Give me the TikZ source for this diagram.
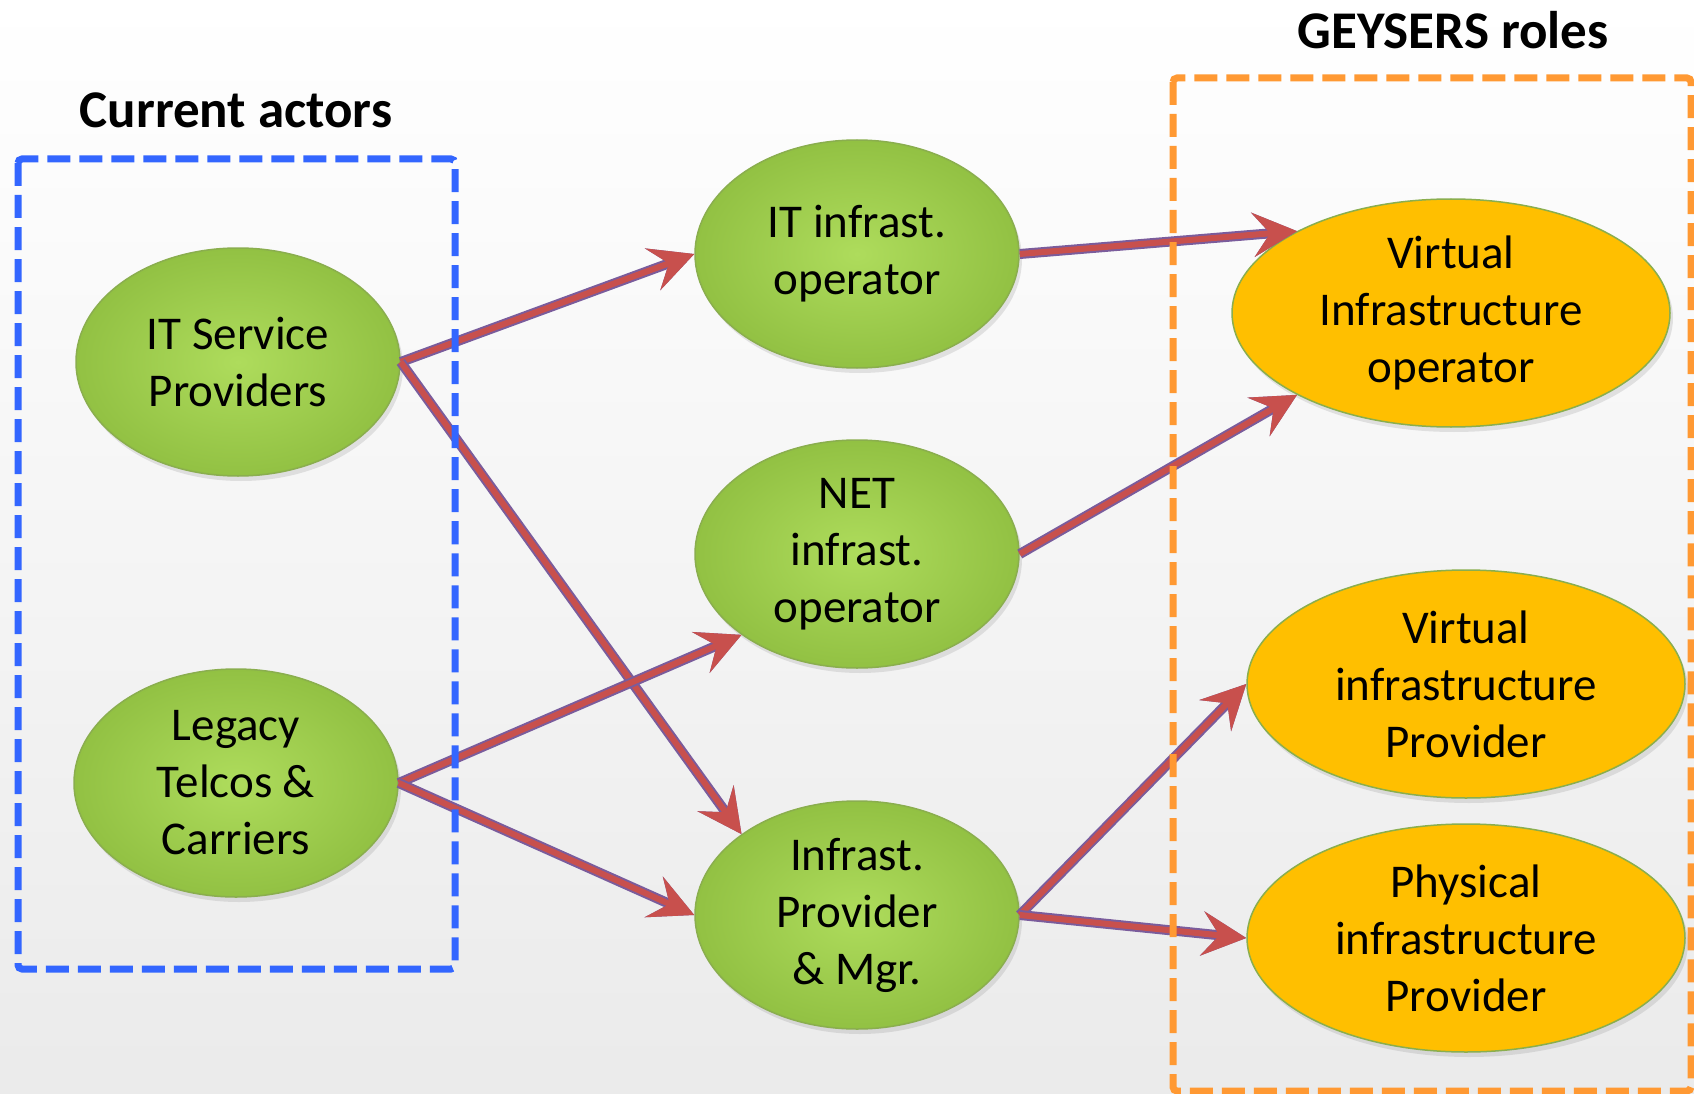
\documentclass[tikz,border=0pt]{standalone}
\usepackage{fontspec}
\setmainfont{Carlito}
\usetikzlibrary{arrows.meta,shapes.geometric,shadows}
\definecolor{actorgreen}{HTML}{92C143}
\definecolor{actorlight}{HTML}{AEDC5C}
\definecolor{roleorange}{HTML}{FFBF00}
\definecolor{nodeedge}{HTML}{8AAE4E}
\definecolor{flowred}{HTML}{C8504D}
\definecolor{flowedge}{HTML}{7A5C9C}
\definecolor{actorblue}{HTML}{3366FF}
\definecolor{roleframe}{HTML}{FF9933}
\tikzset{
  actor/.style={ellipse, minimum width=324pt, minimum height=228pt, inner sep=0pt,
    align=center, draw=nodeedge, line width=1.5pt, inner color=actorlight, outer color=actorgreen,
    drop shadow={opacity=0.2, shadow xshift=3pt, shadow yshift=-5pt},
    font=\fontsize{47}{57}\selectfont},
  role/.style={actor, minimum width=438pt, fill=roleorange, inner color=roleorange, outer color=roleorange},
  flow/.style={line width=6pt, draw=flowred, fill=flowred,
    -{Stealth[length=44pt, width=44pt, inset=17pt]},
    preaction={draw=flowedge, fill=flowedge, line width=10pt}},
  frame/.style={line width=7pt, dash pattern=on 23pt off 9pt, rounded corners=4pt},
  title/.style={font=\fontsize{53}{62}\selectfont\bfseries}
}
\begin{document}
\begin{tikzpicture}[x=1pt,y=-1pt]
\useasboundingbox (0,0) rectangle (1694,1094);
\shade [top color=white, bottom color=black!8] (0,0) rectangle (1694,1094);
% actors and roles
\node [actor] (itsp) at (238,362) {IT Service\\Providers};
\node [actor] (legacy) at (236,783) {Legacy\\Telcos \&\\Carriers};
\node [actor] (itop) at (857,254) {IT infrast.\\operator};
\node [actor] (netop) at (857,554) {NET\\infrast.\\operator};
\node [actor] (infprov) at (857,915) {Infrast.\\Provider\\\& Mgr.};
\node [role] (vio) at (1451,313) {Virtual\\Infrastructure\\operator};
\node [role] (vip) at (1466,684) {Virtual\\infrastructure\\Provider};
\node [role] (pip) at (1466,938) {Physical\\infrastructure\\Provider};
% flows
\draw [flow] (itsp.east) -- (itop.west);
\draw [flow] (itsp.east) -- (infprov.145);
\draw [flow] (legacy.east) -- (netop.-145);
\draw [flow] (legacy.east) -- (infprov.west);
\draw [flow] (itop.east) -- (vio.152);
\draw [flow] (netop.east) -- (vio.208);
\draw [flow] (infprov.east) -- (vip.west);
\draw [flow] (infprov.east) -- (pip.west);
% frames
\draw [frame, actorblue] (18,159) rectangle (455,969);
\draw [frame, roleframe] (1173,78) rectangle (1691,1091);
\node [title] (actorstitle) at (236,110) {Current actors};
\node [title] (rolestitle) at (1453,30) {GEYSERS roles};
\end{tikzpicture}
\end{document}
